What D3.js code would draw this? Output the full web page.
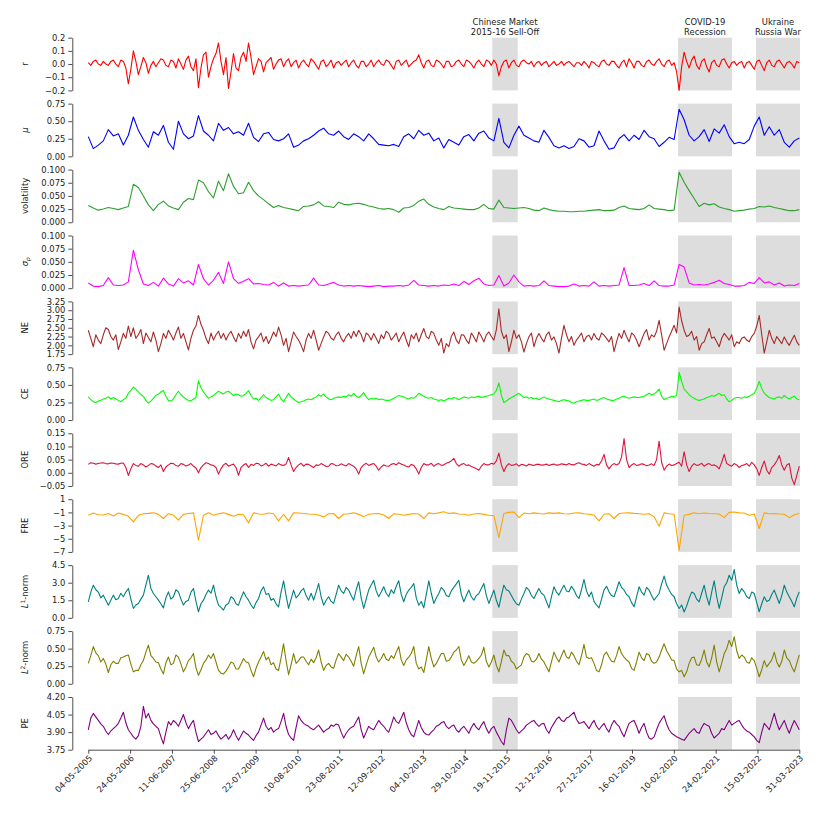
<!DOCTYPE html>
<html><head><meta charset="utf-8">
<script src="https://cdn.jsdelivr.net/npm/d3@7"></script>
<style>body{margin:0;background:#fff}svg text{font-family:"DejaVu Sans",sans-serif}</style>
</head><body>
<svg id="chart" width="831" height="819"></svg>
<script>
// ---------------- DATA ----------------
const dateLabels = ["04-05-2005","24-05-2006","11-06-2007","25-06-2008","22-07-2009","10-08-2010","23-08-2011","12-09-2012","04-10-2013","29-10-2014","19-11-2015","12-12-2016","27-12-2017","16-01-2019","10-02-2020","24-02-2021","15-03-2022","31-03-2023"];
const tickEvery = 250;          // observations between date ticks
const totalObs = 4250;          // observation index of last tick

const returns = [0.01,-0.01,0.02,0.03,0.00,-0.01,0.02,0.00,-0.01,0.02,0.03,0.00,-0.02,0.03,0.02,-0.03,-0.15,-0.04,0.10,0.02,
-0.08,-0.02,0.05,0.01,-0.07,-0.01,0.02,-0.02,0.01,0.04,0.03,-0.01,-0.02,0.03,0.02,-0.03,0.04,0.00,-0.04,0.03,
0.06,-0.02,-0.05,0.04,-0.18,-0.03,0.07,0.09,-0.10,-0.02,0.04,0.08,0.16,0.02,-0.08,0.05,-0.185,-0.06,0.08,-0.03,
-0.05,0.05,0.09,0.02,0.16,0.05,-0.08,-0.02,0.04,0.02,-0.06,0.01,0.03,0.05,-0.04,0.00,0.03,0.04,-0.02,0.02,
0.04,-0.02,0.01,0.03,-0.03,0.01,0.03,0.00,-0.02,0.04,0.02,-0.01,-0.04,0.02,0.03,-0.02,0.00,0.03,-0.03,0.01,
0.02,-0.01,0.01,0.03,-0.02,0.01,0.03,-0.01,-0.03,0.02,0.02,-0.02,0.00,0.03,-0.02,0.01,0.03,0.00,-0.01,0.03,
0.02,-0.01,-0.04,0.02,0.03,-0.01,0.01,0.03,-0.02,0.00,0.02,0.03,0.07,0.01,-0.03,0.02,0.03,-0.01,-0.02,0.03,
0.02,0.00,-0.03,0.02,0.02,-0.02,-0.01,0.02,0.03,0.00,-0.02,0.03,0.02,0.00,-0.03,0.01,0.03,0.00,-0.02,0.03,
0.02,-0.01,0.03,0.00,-0.09,-0.02,0.02,0.03,-0.03,0.01,0.03,-0.01,-0.02,0.02,0.03,0.01,0.00,0.02,-0.02,0.01,
0.02,-0.01,0.01,0.02,-0.02,0.00,0.02,-0.01,0.00,0.02,-0.01,0.01,0.02,0.00,-0.02,0.01,0.01,-0.01,0.02,0.00,
-0.03,0.02,0.01,-0.01,-0.02,0.02,0.03,0.00,-0.01,0.02,0.02,-0.01,-0.03,0.01,0.03,-0.02,0.04,0.01,-0.03,0.02,
0.02,-0.01,-0.02,0.02,0.03,0.00,-0.01,0.02,0.04,0.00,-0.02,0.02,0.03,-0.01,0.01,-0.06,-0.20,-0.02,0.09,0.02,
-0.03,0.03,0.06,-0.01,-0.04,0.02,0.04,-0.02,-0.06,0.01,0.03,-0.01,-0.02,0.03,0.04,0.00,-0.03,0.01,0.02,-0.01,
0.01,0.02,-0.03,0.01,0.02,-0.01,-0.04,0.02,0.03,-0.01,-0.05,0.01,0.03,-0.01,-0.02,0.02,0.03,0.00,-0.03,0.01,
0.02,0.00,-0.03,0.02,0.01];
const mu = [0.28,0.11,0.16,0.22,0.38,0.29,0.32,0.16,0.30,0.56,
0.37,0.24,0.13,0.35,0.30,0.44,0.20,0.10,0.50,0.32,
0.25,0.29,0.58,0.36,0.30,0.22,0.47,0.37,0.41,0.32,
0.35,0.30,0.47,0.27,0.21,0.32,0.34,0.24,0.22,0.25,
0.32,0.13,0.16,0.22,0.25,0.30,0.36,0.40,0.32,0.30,
0.36,0.28,0.24,0.32,0.28,0.22,0.32,0.25,0.17,0.16,
0.15,0.17,0.14,0.28,0.32,0.25,0.37,0.30,0.33,0.22,
0.26,0.12,0.24,0.20,0.16,0.28,0.31,0.22,0.33,0.36,
0.26,0.22,0.54,0.20,0.12,0.30,0.43,0.30,0.26,0.22,
0.20,0.37,0.27,0.15,0.12,0.15,0.11,0.14,0.25,0.22,
0.13,0.15,0.36,0.22,0.10,0.12,0.25,0.31,0.22,0.30,
0.24,0.37,0.28,0.25,0.14,0.20,0.27,0.24,0.67,0.52,
0.30,0.22,0.28,0.38,0.21,0.39,0.33,0.45,0.28,0.18,
0.20,0.18,0.24,0.43,0.56,0.30,0.42,0.30,0.38,0.20,
0.13,0.22,0.26];
const volatility = [0.032,0.027,0.023,0.025,0.028,0.026,0.024,0.027,0.030,0.072,
0.066,0.050,0.033,0.022,0.034,0.040,0.031,0.027,0.024,0.038,
0.045,0.043,0.080,0.075,0.058,0.046,0.078,0.060,0.092,0.068,
0.054,0.056,0.076,0.060,0.050,0.043,0.035,0.028,0.032,0.028,
0.026,0.024,0.022,0.030,0.031,0.033,0.039,0.031,0.030,0.028,
0.038,0.034,0.033,0.035,0.036,0.034,0.031,0.029,0.026,0.025,
0.026,0.024,0.019,0.027,0.028,0.032,0.040,0.044,0.034,0.029,
0.026,0.024,0.030,0.027,0.026,0.025,0.024,0.024,0.027,0.034,
0.026,0.025,0.042,0.028,0.027,0.026,0.027,0.028,0.026,0.023,
0.022,0.027,0.024,0.022,0.021,0.021,0.020,0.020,0.021,0.021,
0.022,0.023,0.024,0.022,0.022,0.023,0.028,0.031,0.026,0.025,
0.024,0.026,0.033,0.026,0.025,0.024,0.022,0.023,0.095,0.076,
0.060,0.045,0.030,0.036,0.033,0.035,0.029,0.026,0.024,0.021,
0.022,0.023,0.025,0.026,0.030,0.029,0.031,0.028,0.026,0.024,
0.022,0.022,0.024];
const sigmaP = [0.010,0.004,0.003,0.005,0.020,0.006,0.005,0.006,0.012,0.072,
0.035,0.008,0.005,0.011,0.004,0.019,0.008,0.004,0.018,0.010,
0.014,0.006,0.045,0.018,0.006,0.015,0.030,0.009,0.050,0.018,
0.009,0.013,0.018,0.008,0.009,0.007,0.006,0.011,0.004,0.010,
0.004,0.005,0.004,0.005,0.006,0.019,0.006,0.005,0.008,0.011,
0.006,0.004,0.005,0.004,0.005,0.004,0.003,0.004,0.005,0.003,
0.004,0.004,0.005,0.004,0.006,0.015,0.006,0.005,0.004,0.005,
0.004,0.006,0.005,0.008,0.005,0.013,0.007,0.014,0.019,0.008,
0.005,0.006,0.024,0.004,0.010,0.025,0.012,0.004,0.005,0.004,
0.005,0.014,0.005,0.004,0.003,0.003,0.004,0.008,0.004,0.005,
0.004,0.012,0.004,0.005,0.004,0.005,0.006,0.039,0.005,0.005,
0.006,0.009,0.005,0.014,0.005,0.004,0.004,0.006,0.045,0.040,
0.010,0.006,0.007,0.006,0.008,0.011,0.015,0.009,0.007,0.004,
0.004,0.005,0.011,0.009,0.020,0.010,0.012,0.006,0.010,0.004,
0.006,0.005,0.009];
const NE = [2.43,2.20,1.96,2.30,2.15,2.05,2.30,2.50,2.45,2.25,2.15,2.30,1.88,2.10,2.34,2.20,2.55,2.25,2.50,2.20,
2.30,2.45,2.05,2.35,2.22,2.10,2.38,2.15,1.82,2.05,2.34,2.20,2.43,2.30,2.15,2.35,2.52,2.20,2.34,2.10,
1.87,2.20,2.43,2.55,2.85,2.60,2.43,2.20,2.05,2.35,2.15,2.30,2.40,2.20,2.34,2.15,2.30,2.40,2.24,2.10,
2.34,2.20,2.40,2.25,2.45,2.10,1.90,2.15,2.24,2.35,2.10,2.25,2.05,2.20,2.38,2.25,2.52,2.30,2.00,2.20,
1.82,2.10,2.38,2.25,2.15,2.00,1.82,2.15,2.34,2.20,2.43,2.15,1.86,2.05,2.24,2.40,2.34,2.20,2.15,2.30,
2.38,2.20,2.10,2.25,2.34,2.20,2.40,2.25,2.43,2.30,2.10,2.35,2.29,2.15,2.34,2.20,2.05,2.30,2.19,2.40,
2.34,2.15,2.24,2.35,2.10,2.25,2.38,2.15,1.96,2.30,2.19,2.35,2.10,2.30,2.48,2.25,2.19,2.40,2.34,2.15,
2.00,2.20,1.78,2.05,1.96,2.25,2.38,2.15,2.05,2.30,2.29,2.15,2.05,2.35,2.24,2.10,2.38,2.25,2.10,2.30,
2.38,2.25,2.15,2.45,3.04,2.40,2.19,2.30,1.82,2.10,2.43,2.20,2.30,2.10,1.81,2.05,2.24,2.35,1.96,2.20,
2.34,2.20,2.10,2.30,2.38,2.15,2.24,2.05,1.78,2.20,2.57,2.30,2.10,2.25,2.00,2.15,2.24,2.35,2.10,2.25,
2.29,2.15,2.34,2.20,2.15,2.35,2.29,2.20,2.10,2.25,1.82,2.10,2.34,2.20,2.43,2.25,2.10,2.35,2.29,2.15,
1.96,2.15,2.34,2.45,2.15,2.30,2.24,2.40,2.71,2.30,1.86,2.05,2.24,2.40,2.57,2.35,3.09,2.70,2.43,2.25,
2.29,2.40,2.15,2.25,1.86,2.05,2.10,2.30,2.48,2.20,2.24,2.10,1.96,2.20,2.34,2.25,2.15,2.30,1.96,2.10,
2.05,2.20,2.24,2.15,2.10,2.25,2.34,2.55,2.85,2.30,1.78,2.10,2.43,2.20,2.05,2.25,2.15,2.05,2.24,2.10,
2.00,2.15,2.29,2.10,2.00];
const CE = [0.33,0.29,0.26,0.25,0.27,0.28,0.30,0.31,0.33,0.30,0.32,0.30,0.28,0.26,0.29,0.31,0.38,0.42,0.47,0.44,
0.40,0.36,0.34,0.28,0.24,0.27,0.31,0.35,0.37,0.40,0.42,0.34,0.28,0.27,0.30,0.36,0.41,0.36,0.33,0.30,
0.28,0.27,0.30,0.32,0.56,0.46,0.40,0.35,0.31,0.33,0.35,0.38,0.41,0.39,0.37,0.40,0.41,0.38,0.35,0.37,
0.36,0.34,0.35,0.38,0.42,0.35,0.30,0.31,0.28,0.32,0.36,0.32,0.30,0.28,0.29,0.33,0.37,0.30,0.26,0.32,
0.38,0.33,0.30,0.27,0.25,0.26,0.27,0.29,0.30,0.29,0.31,0.33,0.36,0.34,0.37,0.33,0.30,0.29,0.31,0.32,
0.33,0.32,0.34,0.33,0.36,0.34,0.38,0.34,0.32,0.35,0.39,0.33,0.29,0.31,0.30,0.31,0.29,0.30,0.29,0.28,
0.28,0.29,0.31,0.33,0.35,0.34,0.33,0.31,0.30,0.32,0.31,0.34,0.38,0.36,0.34,0.32,0.31,0.32,0.30,0.29,
0.28,0.29,0.27,0.29,0.31,0.30,0.32,0.31,0.29,0.31,0.33,0.32,0.31,0.33,0.32,0.33,0.34,0.32,0.33,0.34,
0.35,0.36,0.37,0.42,0.53,0.35,0.25,0.27,0.30,0.32,0.34,0.36,0.38,0.35,0.32,0.33,0.31,0.32,0.30,0.31,
0.29,0.31,0.33,0.31,0.30,0.29,0.28,0.27,0.26,0.28,0.29,0.28,0.27,0.25,0.24,0.26,0.27,0.28,0.29,0.28,
0.28,0.29,0.30,0.28,0.29,0.31,0.32,0.30,0.29,0.28,0.28,0.30,0.31,0.33,0.34,0.32,0.31,0.32,0.33,0.32,
0.32,0.33,0.34,0.36,0.38,0.36,0.37,0.40,0.44,0.34,0.29,0.31,0.32,0.34,0.33,0.35,0.68,0.55,0.44,0.40,
0.36,0.33,0.31,0.29,0.28,0.29,0.30,0.32,0.33,0.35,0.34,0.36,0.38,0.35,0.36,0.30,0.26,0.28,0.31,0.32,
0.32,0.31,0.33,0.32,0.34,0.36,0.38,0.45,0.55,0.45,0.38,0.35,0.32,0.31,0.30,0.32,0.33,0.31,0.35,0.32,
0.30,0.32,0.34,0.30,0.29];
const ORE = [0.032,0.038,0.036,0.033,0.035,0.037,0.038,0.035,0.034,0.037,0.036,0.034,0.033,0.036,0.037,0.020,-0.010,0.015,0.035,0.028,
0.025,0.035,0.030,0.022,0.028,0.035,0.033,0.026,0.020,0.030,0.005,0.022,0.030,0.036,0.035,0.028,0.025,0.035,0.032,0.026,
0.030,0.035,0.025,0.018,0.000,0.020,0.030,0.038,0.035,0.030,0.028,0.020,-0.005,0.015,0.030,0.036,0.025,0.030,0.033,0.020,
-0.010,0.020,0.030,0.035,0.020,0.032,0.028,0.036,0.035,0.026,0.030,0.036,0.025,0.033,0.030,0.026,0.035,0.030,0.028,0.033,
0.058,0.030,0.005,0.020,0.030,0.036,0.025,0.033,0.032,0.026,0.020,0.030,0.028,0.035,0.030,0.024,0.025,0.035,0.033,0.027,
0.028,0.034,0.030,0.026,0.035,0.030,0.025,0.015,-0.005,0.020,0.030,0.036,0.028,0.032,0.035,0.025,0.010,0.022,0.030,0.026,
0.025,0.032,0.035,0.030,0.038,0.033,0.030,0.025,0.022,0.032,0.028,0.015,-0.005,0.020,0.035,0.030,0.030,0.036,0.025,0.032,
0.035,0.028,0.030,0.036,0.040,0.045,0.055,0.035,0.025,0.032,0.035,0.028,0.030,0.024,0.020,0.015,0.010,0.025,0.035,0.030,
0.030,0.036,0.033,0.045,0.075,0.030,0.005,0.025,0.035,0.028,0.030,0.034,0.025,0.032,0.030,0.026,0.033,0.030,0.028,0.032,
0.032,0.029,0.030,0.033,0.028,0.031,0.033,0.029,0.030,0.034,0.032,0.030,0.035,0.031,0.030,0.035,0.038,0.033,0.032,0.028,
0.035,0.030,0.025,0.032,0.030,0.045,0.070,0.030,0.015,0.028,0.035,0.030,0.035,0.060,0.130,0.050,0.020,0.030,0.035,0.028,
0.030,0.034,0.032,0.027,0.030,0.034,0.028,0.050,0.120,0.040,0.010,0.025,0.033,0.028,0.030,0.035,0.040,0.025,0.080,0.030,
0.005,0.025,0.035,0.028,0.030,0.036,0.025,0.032,0.035,0.028,0.030,0.025,0.015,0.040,0.070,0.035,0.030,0.025,0.035,0.030,
0.020,0.028,0.030,0.035,0.025,0.040,0.030,0.015,-0.010,0.020,0.045,0.010,-0.005,0.020,0.030,0.045,0.066,0.030,0.010,0.030,
0.035,-0.020,-0.045,-0.010,0.025];
const FRE = [-1.43,-1.10,-1.35,-1.40,-1.17,-1.55,-1.10,-1.30,-1.60,-2.44,
-1.45,-1.20,-1.15,-1.07,-1.30,-1.93,-1.20,-1.40,-2.19,-1.30,
-1.17,-1.07,-5.22,-1.43,-1.07,-1.43,-1.20,-1.07,-1.30,-1.58,
-1.28,-1.35,-2.59,-1.07,-1.25,-1.28,-1.10,-1.20,-2.29,-1.28,
-2.29,-1.07,-1.10,-1.17,-1.25,-1.28,-1.40,-1.68,-1.20,-1.17,
-1.93,-1.28,-1.20,-1.07,-1.30,-1.68,-1.28,-1.20,-1.17,-1.40,
-1.93,-1.20,-1.28,-1.43,-1.30,-1.17,-1.25,-1.93,-1.07,-1.20,
-1.07,-0.90,-1.17,-1.07,-1.25,-1.28,-1.43,-1.25,-1.17,-1.30,
-1.43,-1.50,-4.82,-1.17,-1.00,-0.95,-1.80,-1.10,-1.20,-1.07,
-1.17,-1.25,-1.07,-1.15,-1.07,-1.20,-1.25,-1.10,-1.07,-1.20,
-1.28,-1.40,-2.29,-1.28,-1.20,-1.93,-1.17,-1.10,-1.07,-1.15,
-1.20,-1.28,-1.20,-1.68,-3.10,-1.07,-1.20,-1.28,-6.74,-1.43,
-1.30,-1.07,-1.20,-1.10,-1.17,-1.20,-1.25,-1.80,-1.00,-0.95,
-1.07,-1.10,-1.43,-1.25,-3.45,-1.07,-1.20,-1.17,-1.25,-1.28,
-1.80,-1.35,-1.17];
const L1norm = [1.37,2.20,2.79,2.40,2.20,1.70,1.94,1.50,1.08,1.50,1.94,1.55,1.65,2.10,1.80,2.20,2.51,1.60,0.80,1.10,
1.23,1.60,1.94,2.80,3.64,2.50,2.08,1.80,1.51,1.20,0.85,1.70,2.22,1.60,1.80,2.40,2.22,1.60,1.10,1.40,
1.51,2.20,2.51,1.40,0.52,1.20,1.51,2.00,2.37,2.10,2.79,1.80,1.08,0.90,0.66,1.10,1.23,1.80,1.65,1.20,
1.08,1.70,2.22,1.80,1.51,1.10,0.80,1.30,1.65,2.30,2.65,2.00,2.08,1.50,1.65,1.20,0.94,2.20,3.16,1.90,
0.80,1.60,2.37,1.70,1.94,2.30,2.51,1.90,1.51,2.10,1.51,2.20,2.93,1.80,1.08,1.50,1.80,1.40,1.23,2.00,
2.79,2.30,2.08,2.60,2.37,1.90,1.51,2.40,3.08,1.70,0.80,1.60,2.37,2.80,3.20,2.30,1.80,2.20,2.65,2.10,
1.80,2.40,2.08,2.70,3.16,2.00,1.37,2.00,2.37,2.60,2.93,1.70,1.08,1.40,0.85,2.00,3.16,2.10,1.23,1.70,
2.08,2.60,2.37,1.90,1.80,2.30,2.60,2.90,3.20,2.00,1.37,1.90,2.37,1.80,1.51,1.90,2.08,2.50,2.93,1.90,
1.23,1.80,2.37,1.50,0.90,1.90,2.79,2.40,2.30,1.90,1.51,1.20,1.08,1.60,2.08,2.60,2.37,1.90,1.65,2.10,
2.51,2.10,1.94,1.40,0.85,1.80,2.65,2.20,1.94,2.40,2.79,2.30,2.22,2.70,2.37,1.90,1.65,2.40,3.28,2.30,
1.80,2.20,1.40,1.10,0.85,1.60,2.37,2.70,2.22,1.90,1.80,2.40,3.08,2.60,2.37,2.00,1.80,1.30,0.94,1.80,
2.65,2.20,1.94,2.60,2.37,1.90,1.51,1.80,2.08,2.90,3.56,2.80,2.37,2.00,1.80,1.20,0.80,1.10,0.50,1.00,
1.65,2.20,2.08,1.60,1.37,2.10,2.79,1.80,1.08,2.20,3.16,1.80,0.80,1.70,2.65,3.00,3.64,3.20,4.13,2.80,
2.08,2.50,2.22,1.80,1.65,2.20,2.08,1.30,0.52,1.20,1.80,1.40,1.51,2.00,2.37,1.80,1.23,1.90,2.79,2.20,
1.80,1.40,0.94,1.70,2.22];
const L2norm = [0.29,0.40,0.53,0.44,0.40,0.31,0.36,0.28,0.16,0.27,0.32,0.29,0.29,0.37,0.38,0.40,0.41,0.28,0.17,0.19,
0.19,0.27,0.33,0.45,0.55,0.40,0.36,0.31,0.30,0.21,0.14,0.30,0.38,0.27,0.29,0.41,0.38,0.28,0.17,0.24,
0.33,0.37,0.43,0.23,0.12,0.20,0.29,0.34,0.41,0.36,0.43,0.31,0.19,0.15,0.14,0.18,0.24,0.31,0.29,0.21,
0.21,0.28,0.36,0.31,0.30,0.19,0.10,0.22,0.31,0.38,0.46,0.34,0.38,0.27,0.30,0.21,0.19,0.37,0.57,0.33,
0.13,0.27,0.43,0.29,0.33,0.38,0.38,0.32,0.27,0.35,0.30,0.37,0.48,0.31,0.19,0.26,0.29,0.24,0.22,0.34,
0.43,0.38,0.33,0.42,0.38,0.32,0.25,0.40,0.53,0.29,0.14,0.27,0.38,0.45,0.52,0.38,0.31,0.36,0.43,0.35,
0.33,0.40,0.36,0.45,0.53,0.34,0.26,0.34,0.38,0.43,0.53,0.29,0.21,0.24,0.16,0.34,0.53,0.36,0.24,0.29,
0.36,0.43,0.43,0.32,0.33,0.38,0.45,0.48,0.53,0.34,0.26,0.32,0.40,0.31,0.29,0.32,0.36,0.41,0.52,0.32,
0.24,0.31,0.41,0.26,0.17,0.32,0.48,0.40,0.40,0.32,0.29,0.21,0.24,0.27,0.38,0.43,0.41,0.32,0.31,0.35,
0.43,0.35,0.31,0.24,0.17,0.31,0.45,0.37,0.31,0.40,0.48,0.38,0.36,0.45,0.40,0.32,0.27,0.40,0.56,0.38,
0.36,0.37,0.29,0.19,0.17,0.27,0.41,0.45,0.38,0.32,0.31,0.40,0.53,0.43,0.38,0.34,0.31,0.22,0.19,0.31,
0.45,0.37,0.33,0.43,0.41,0.32,0.29,0.31,0.38,0.48,0.57,0.47,0.41,0.34,0.33,0.21,0.17,0.19,0.10,0.17,
0.29,0.37,0.38,0.27,0.26,0.35,0.48,0.31,0.24,0.37,0.55,0.31,0.17,0.29,0.43,0.50,0.62,0.53,0.67,0.47,
0.36,0.41,0.38,0.31,0.29,0.37,0.33,0.22,0.10,0.20,0.33,0.24,0.29,0.34,0.45,0.31,0.24,0.32,0.48,0.37,
0.33,0.24,0.17,0.29,0.41];
const PE = [3.92,4.02,4.06,4.03,4.00,3.97,3.95,3.91,3.88,3.91,3.93,3.95,3.975,4.02,4.07,3.98,3.92,3.89,3.86,3.84,
3.87,3.95,4.12,4.02,4.06,4.00,3.97,3.95,3.93,3.86,3.80,3.90,3.99,3.96,4.00,3.98,3.95,4.00,4.05,3.98,
3.93,3.97,4.00,3.90,3.82,3.84,3.86,3.89,3.92,3.88,3.89,3.91,3.87,3.84,3.86,3.88,3.84,3.87,3.92,3.87,
3.83,3.87,3.91,3.89,3.875,3.85,3.83,3.87,3.90,3.96,4.02,3.95,3.92,3.94,3.90,3.92,3.93,3.99,4.06,3.95,
3.88,3.85,3.83,3.94,4.04,4.00,3.975,3.96,3.95,3.93,3.92,3.94,3.96,3.93,3.90,3.92,3.93,3.96,3.95,3.97,
3.96,3.90,3.85,3.89,3.92,3.94,3.95,3.99,4.03,3.92,3.85,3.90,3.95,3.93,3.92,3.96,4.00,3.97,3.95,3.92,
3.90,3.96,4.03,3.99,3.975,4.02,4.07,3.98,3.92,3.88,3.86,3.93,4.00,3.94,3.90,3.88,3.875,3.90,3.92,3.95,
3.96,3.98,3.99,3.95,3.93,3.95,3.96,3.92,3.90,3.93,3.95,3.92,3.89,3.94,3.975,3.94,3.92,3.96,3.99,3.93,
3.89,3.93,3.95,3.90,3.86,3.82,3.79,3.92,4.02,4.00,3.96,3.92,3.89,3.91,3.93,3.96,3.975,3.99,4.00,3.97,
3.95,3.97,3.975,3.92,3.89,3.94,3.975,4.01,4.03,4.00,3.99,4.02,4.03,4.05,4.07,4.01,3.975,3.98,3.99,3.96,
3.93,3.97,4.00,3.95,3.92,3.95,3.975,3.93,3.90,3.96,4.00,3.97,3.95,3.90,3.86,3.92,3.975,3.99,4.00,3.95,
3.89,3.94,3.975,3.90,3.85,3.84,3.86,3.92,3.975,4.01,4.04,3.97,3.92,3.89,3.875,3.86,3.85,3.84,3.83,3.86,
3.89,3.91,3.93,3.90,3.89,3.94,3.975,3.96,3.95,3.89,3.85,3.87,3.89,3.93,3.92,3.96,4.00,3.96,3.975,3.99,
4.00,3.96,3.93,3.91,3.90,3.88,3.86,3.83,3.81,3.90,3.975,3.95,3.92,3.99,4.06,3.98,3.92,3.96,4.00,3.94,
3.89,3.95,4.00,3.96,3.92];

// y tick labels per panel
const rTicks = [-0.2,-0.1,0.0,0.1,0.2];
const muTicks = [0,0.25,0.5,0.75];
const volTicks = [0,0.025,0.05,0.075,0.1];
const sigTicks = [0,0.025,0.05,0.075,0.1];
const neTicks = [1.75,2.0,2.25,2.5,2.75,3.0,3.25];
const ceTicks = [0,0.25,0.5,0.75];
const oreTicks = [-0.05,0,0.05,0.1,0.15];
const freTicks = [-7,-5,-3,-1,1];
const l1Ticks = [0,1.5,3.0,4.5];
const l2Ticks = [0,0.25,0.5,0.75];
const peTicks = [3.75,3.90,4.05,4.20];

// crisis periods (observation index)
const eventNames = [["Chinese Market","2015-16 Sell-Off"],["COVID-19","Recession"],["Ukraine","Russia War"]];
const eventStart = [2415, 3525, 3991];
const eventEnd   = [2567, 3848, 4254];

// ---------------- LAYOUT ----------------
const panels = [
  {v:returns,   c:"#ff0000", t:rTicks,   f:".1f", lab:[["r",""]]},
  {v:mu,        c:"#0000ff", t:muTicks,  f:".2f", lab:[["μ","i"]]},
  {v:volatility,c:"#2ca02c", t:volTicks, f:".3f", lab:[["volatility",""]]},
  {v:sigmaP,    c:"#ff00ff", t:sigTicks, f:".3f", lab:[["σ","i"],["p","sub"]]},
  {v:NE,        c:"#a52a2a", t:neTicks,  f:".2f", lab:[["NE",""]]},
  {v:CE,        c:"#00ff00", t:ceTicks,  f:".2f", lab:[["CE",""]]},
  {v:ORE,       c:"#dc143c", t:oreTicks, f:".2f", lab:[["ORE",""]]},
  {v:FRE,       c:"#ffa500", t:freTicks, f:"d",   lab:[["FRE",""]]},
  {v:L1norm,    c:"#008080", t:l1Ticks,  f:".1f", lab:[["L","i"],["1","sup"],["-norm",""]]},
  {v:L2norm,    c:"#808000", t:l2Ticks,  f:".2f", lab:[["L","i"],["2","sup"],["-norm",""]]},
  {v:PE,        c:"#800080", t:peTicks,  f:".2f", lab:[["PE",""]]}
];

const svg = d3.select("#chart");
const FS = 8.4;
const xLeft = 88.3, xRight = 799.3, spineX = 72.3;
const top0 = 37.7, step = 65.93, ph = 52.7;
const axisCol = "#4d4d4d", textCol = "#1a1a1a";

const x = d3.scaleLinear().domain([0,totalObs]).range([xLeft,xRight]);

panels.forEach((p,k)=>{
  const g = svg.append("g").attr("transform",`translate(0,${top0+k*step})`);
  const y = d3.scaleLinear().domain([p.t[0], p.t[p.t.length-1]]).range([ph,0]);
  const n = p.v.length;
  // shaded events
  g.selectAll("rect.ev").data(eventStart).join("rect")
    .attr("x",(d)=>x(d)).attr("width",(d,i)=>x(eventEnd[i])-x(d))
    .attr("y",0).attr("height",ph).attr("fill","#dddddd");
  // series
  const line = d3.line().x((d,i)=>x(i*totalObs/(n-1))).y(d=>y(d));
  g.append("path").datum(p.v).attr("d",line).attr("fill","none")
    .attr("stroke",p.c).attr("stroke-width",1.1).attr("stroke-linejoin","round");
  // y axis
  const ax = g.append("g").attr("transform",`translate(${spineX},0)`)
    .call(d3.axisLeft(y).tickValues(p.t).tickFormat(d3.format(p.f)).tickSize(4).tickSizeOuter(0).tickPadding(3));
  ax.select(".domain").attr("stroke",axisCol);
  ax.selectAll(".tick line").attr("stroke",axisCol);
  ax.selectAll(".tick text").attr("fill",textCol).style("font-size",FS+"px").style("font-family","DejaVu Sans");
  ax.attr("font-size",null).attr("font-family",null);
  // y label
  const t = g.append("text").attr("transform",`translate(25,${ph/2}) rotate(-90)`)
    .attr("text-anchor","middle").attr("dy","0.35em")
    .style("font-size",FS+"px").attr("fill",textCol);
  p.lab.forEach(([s,st])=>{
    const ts = t.append("tspan").text(s);
    if(st==="i") ts.style("font-style","italic");
    if(st==="sub") ts.style("font-size",(FS*0.7)+"px").style("font-style","italic").attr("baseline-shift","-25%");
    if(st==="sup") ts.style("font-size",(FS*0.7)+"px").attr("baseline-shift","45%");
  });
  // bottom axis
  if(k===panels.length-1){
    const bx = g.append("g").attr("transform",`translate(0,${ph})`)
      .call(d3.axisBottom(x).tickValues(d3.range(0,totalObs+1,tickEvery))
        .tickFormat((d,i)=>dateLabels[i]).tickSize(4).tickSizeOuter(0));
    bx.select(".domain").attr("stroke",axisCol);
    bx.selectAll(".tick line").attr("stroke",axisCol);
    bx.selectAll(".tick text").attr("fill",textCol).style("font-size",FS+"px").style("font-family","DejaVu Sans")
      .attr("text-anchor","end").attr("dy",null).attr("y",null)
      .attr("transform","translate(4,9) rotate(-45)");
    bx.attr("font-size",null).attr("font-family",null);
  }
});

// event annotations
eventNames.forEach((nm,i)=>{
  const cx = (x(eventStart[i])+x(eventEnd[i]))/2;
  nm.forEach((ln,j)=>{
    svg.append("text").attr("x",cx).attr("y",25.2+j*9.6).attr("text-anchor","middle")
      .style("font-size",FS+"px").attr("fill",textCol).text(ln);
  });
});
</script>
</body></html>
